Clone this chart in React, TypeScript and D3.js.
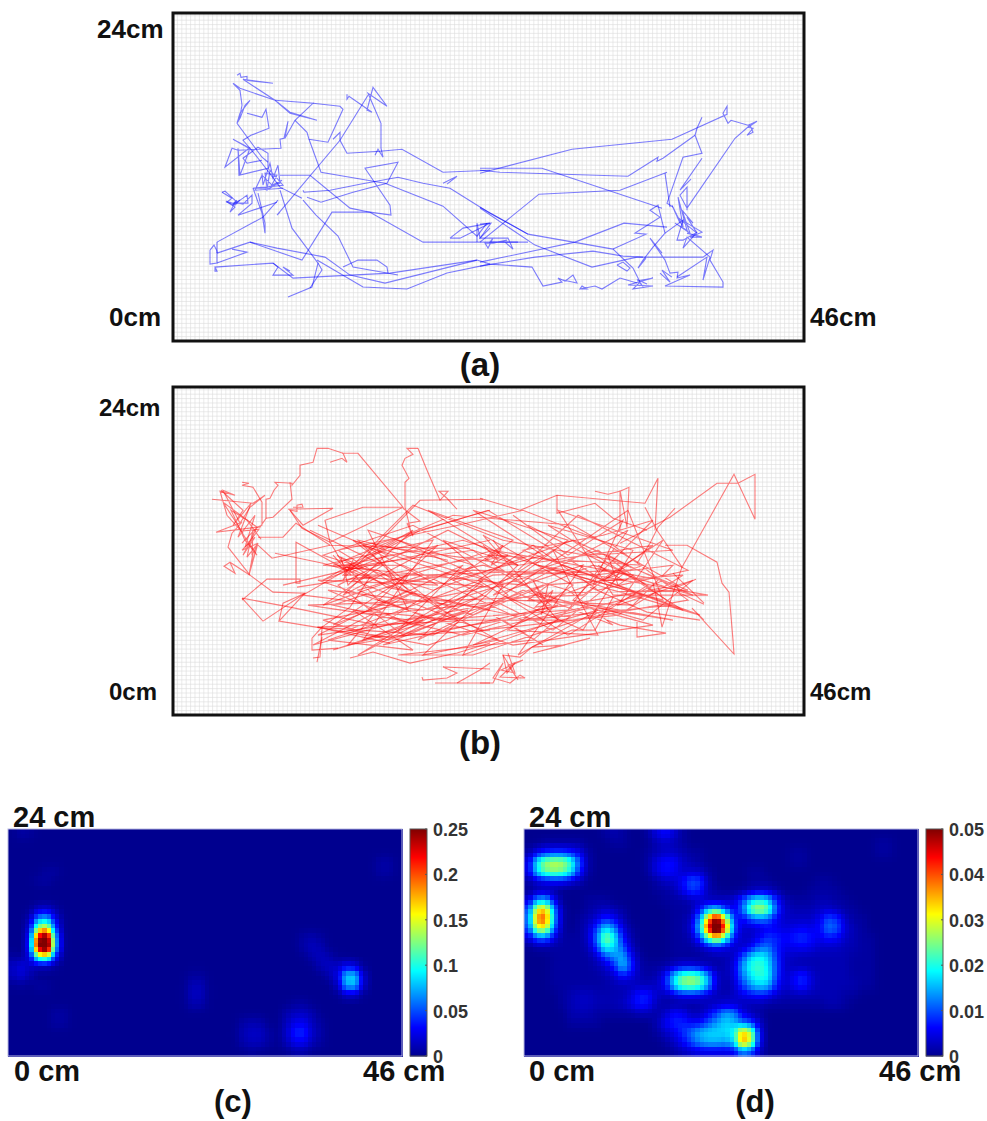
import { useEffect, useRef } from 'react';
import * as d3 from 'd3';

// Tracks are in tracker units, origin at the bottom left of the arena (631 x 328 = 46cm x 24cm)
const TRACK_W = 631;
const TRACK_H = 328;
const GRID_STEP = 4.4;

const blueTracks: number[][][] = [
  [[64,266],[67,268],[68,264],[74,265],[74,261],[100,258],[70,262],[102,241],[117,229],[144,221],[117,228],[102,241],[67,253],[60,258],[67,251],[69,236],[67,226],[64,218],[67,228],[77,241],[72,236],[67,223],[64,218],[89,184],[95,179]],
  [[74,228],[89,224],[93,232],[96,213],[78,206],[70,201],[77,193],[89,178],[107,154],[129,143]],
  [[102,241],[140,238],[122,221],[112,203],[115,220],[111,203],[107,202],[108,193],[65,191],[59,193],[52,174],[76,193],[60,202],[77,193],[67,166],[65,193],[66,166],[95,173],[95,188],[85,194],[70,183],[74,178],[89,181]],
  [[122,221],[134,209],[136,202],[155,199],[170,232],[167,235],[140,238]],
  [[136,202],[148,169],[212,158],[270,135],[304,105],[314,118]],
  [[174,247],[174,242],[176,245],[199,229],[194,231],[200,254],[214,235],[195,248],[208,218],[208,193],[210,184],[205,192],[202,186]],
  [[195,246],[167,201],[104,126],[107,129]],
  [[160,202],[167,209],[167,201],[174,188],[207,190],[229,192],[270,169],[317,171]],
  [[107,166],[137,166],[177,133],[197,129],[250,99],[304,99],[345,99]],
  [[130,151],[131,149],[157,151],[187,157],[225,164],[250,158],[277,153],[317,128],[355,107]],
  [[134,144],[148,139],[180,149],[214,158],[225,179],[192,173],[217,136],[218,126],[197,129],[159,129],[129,81],[77,99],[44,88]],
  [[44,99],[90,124],[105,141]],
  [[37,91],[41,96],[44,90],[44,78],[37,77],[37,91]],
  [[44,88],[44,99]],
  [[44,78],[74,89],[59,92]],
  [[42,74],[42,70],[44,70],[42,74],[100,78],[120,63],[217,68],[304,81],[317,77],[359,74],[370,55],[389,59],[385,63],[392,60],[400,66],[404,58],[390,61]],
  [[100,78],[105,74],[100,66],[120,66],[110,74],[117,70]],
  [[107,151],[119,113],[145,78],[139,54],[115,44]],
  [[145,78],[149,71],[137,53]],
  [[130,141],[143,126],[165,105],[180,74],[214,68],[225,66]],
  [[170,74],[185,81],[204,81],[214,74],[215,68]],
  [[77,99],[104,93],[152,84],[177,66],[212,58],[304,81]],
  [[144,81],[190,54],[234,52],[274,68],[317,77]],
  [[89,168],[90,156],[97,178],[100,163],[105,176],[107,158],[94,154],[92,168],[104,166],[97,153],[80,153],[110,156],[97,171],[94,151],[109,161],[99,156],[89,166],[82,151],[110,153]],
  [[80,153],[89,128],[92,108],[92,118],[85,148]],
  [[49,149],[52,150],[64,139],[70,143],[74,146],[75,138],[60,138],[53,140],[62,134],[57,129],[62,139],[70,137],[79,146],[79,138],[65,126],[104,139]],
  [[49,149],[59,143],[54,139],[62,136],[67,141],[59,136],[64,141]],
  [[277,103],[290,113],[317,118],[287,103],[277,103]],
  [[270,158],[284,165],[274,157]],
  [[304,99],[304,118],[307,103],[317,113]],
  [[307,168],[399,192],[499,202],[554,227],[554,235],[550,228],[555,218],[558,221],[575,216],[584,220],[575,214],[580,213],[574,206],[580,209],[577,216],[562,203],[514,133],[507,146],[514,154],[514,131]],
  [[529,224],[524,213],[522,206],[529,188],[510,184],[494,138],[500,134]],
  [[522,206],[490,183],[484,180],[485,184],[455,165],[327,169],[307,171]],
  [[307,173],[369,173],[489,133]],
  [[529,183],[507,151],[518,162]],
  [[494,169],[447,151],[366,147],[307,99]],
  [[492,168],[497,134]],
  [[307,134],[355,107],[440,92],[460,73],[467,59]],
  [[307,133],[362,96],[419,74],[464,84],[530,84],[540,91],[537,81],[550,59],[550,54],[492,55],[517,66],[504,63],[505,69],[497,68],[492,81],[477,103],[489,88]],
  [[440,92],[473,107],[462,108],[487,124],[477,131],[485,136],[492,108],[480,94],[470,81],[465,73],[473,83]],
  [[492,108],[510,121],[504,101],[510,101],[524,109],[510,93],[514,104],[537,84],[530,61],[534,84],[504,64]],
  [[499,136],[507,118],[500,134],[510,114],[505,144],[514,111],[502,118],[517,108],[509,131],[520,118],[514,124],[524,108],[504,124],[529,109],[517,104],[529,104],[514,108]],
  [[464,60],[480,63],[455,56],[480,55],[460,52],[467,59],[470,54],[465,61],[474,57]],
  [[407,52],[414,52],[409,55],[407,52],[422,55],[429,52],[447,63],[464,58]],
  [[307,79],[402,99],[451,118],[494,114]],
  [[307,75],[362,84],[420,90],[450,85],[470,84]],
  [[307,117],[318,118],[307,103],[335,103],[340,92],[332,99],[355,99],[317,99],[320,103],[315,93],[312,98],[320,98],[334,101]],
  [[444,76],[454,70],[457,73],[450,79],[444,76]],
  [[487,68],[497,59],[489,71],[499,64]],
];

const redTracks: number[][][] = [
  [[157,253],[169,257],[174,253],[170,262],[185,262],[230,208],[190,208],[152,195],[157,173],[230,208]],
  [[170,262],[155,267],[144,267],[140,253],[127,250],[127,240],[119,230],[119,232],[102,233],[105,230],[101,225],[97,217],[93,216],[93,197],[87,188],[84,188],[89,190],[89,213],[80,228],[69,230],[76,232],[69,233]],
  [[245,267],[234,267],[240,261],[232,257],[229,250],[236,237],[232,233],[232,208],[237,188],[234,192],[240,179],[235,192],[247,194],[230,207]],
  [[245,267],[254,245],[267,215],[275,224],[266,224],[274,217],[284,206]],
  [[39,216],[80,212],[92,220],[77,208],[67,192],[50,225],[62,220],[47,224],[54,200],[70,182],[50,213],[84,188],[43,183],[69,193],[59,182],[55,168],[77,140],[57,153],[51,149],[62,142],[57,153]],
  [[48,225],[70,205],[60,190],[78,212],[65,178],[82,200],[72,168],[86,186],[68,184],[84,160],[72,175],[58,205],[74,195],[88,176]],
  [[69,172],[84,188],[70,160],[82,178],[69,165],[85,172],[74,158],[80,185],[79,160],[84,170],[77,145],[80,162],[76,140],[85,172]],
  [[85,178],[110,178],[123,192],[157,170],[257,167],[297,167]],
  [[85,170],[99,157],[157,170]],
  [[117,233],[119,216],[100,198],[93,197]],
  [[115,206],[160,207],[130,190],[117,205],[124,204],[124,210],[129,211],[130,208],[120,208]],
  [[117,205],[129,187],[157,173],[174,145]],
  [[69,115],[94,136],[127,136],[127,132],[123,132],[123,173],[174,145]],
  [[69,117],[90,94],[132,122],[100,123],[77,140]],
  [[69,117],[117,108],[204,90]],
  [[106,94],[110,112],[132,122],[106,94],[149,87],[217,72]],
  [[102,162],[150,152],[174,145]],
  [[140,57],[147,58],[149,88],[139,77],[139,65],[165,67]],
  [[144,53],[149,78]],
  [[177,57],[200,63],[237,52],[284,62],[317,72]],
  [[262,32],[317,32]],
  [[249,38],[250,35],[274,37],[284,42],[270,48],[317,46]],
  [[284,32],[307,45],[317,52]],
  [[307,217],[347,205],[384,220],[472,212],[485,237],[482,185]],
  [[384,220],[384,202],[422,212],[440,197],[474,185]],
  [[422,224],[435,221],[447,224],[456,228],[454,188],[447,225],[447,185]],
  [[472,208],[484,185],[509,148],[561,241],[582,196],[582,241],[565,232],[544,232],[497,198],[447,172]],
  [[502,207],[485,188],[477,172],[464,152]],
  [[492,170],[514,170],[544,153],[549,132],[556,123],[560,75],[561,61],[519,107],[531,95]],
  [[531,112],[500,142]],
  [[523,136],[504,128],[507,122],[531,111]],
  [[464,93],[464,78],[493,82],[447,90],[434,95]],
  [[527,95],[474,103],[417,128]],
  [[509,148],[500,122],[489,88],[484,115],[480,132]],
  [[417,77],[360,62],[392,70],[359,68],[399,85],[422,85],[440,118]],
  [[359,68],[347,58],[330,60],[334,42],[342,52],[327,38],[352,37],[347,40],[337,32],[320,37],[330,52],[320,32],[307,32]],
  [[184,150],[247,215],[310,216]],
  [[174,145],[317,175]],
  [[174,145],[247,185],[317,205]],
  [[164,160],[214,128],[317,105]],
  [[124,128],[190,138],[317,128]],
  [[144,88],[204,78],[317,85]],
  [[149,88],[177,108],[197,138],[174,148]],
  [[110,130],[174,145],[300,100],[420,150],[520,120],[400,175],[260,125],[150,160],[240,190],[370,120],[480,90],[340,70],[205,115],[172,150],[290,175],[440,125],[527,100],[390,150],[250,105],[130,120],[225,175],[367,112],[470,150],[320,160],[180,135],[310,85],[445,100],[510,140],[370,130],[215,75],[150,95],[300,125],[425,165],[500,110],[350,95],[230,150],[160,150],[280,200],[400,190],[505,130],[365,105],[255,70],[175,85],[320,140],[455,145],[380,85],[270,140],[170,140],[240,210],[330,175],[440,155],[515,125],[372,122],[235,95],[135,110],[280,115],[410,120],[480,170],[345,150],[200,170],[315,205],[430,135],[360,75],[225,60],[300,60],[420,100],[490,135],[320,165],[185,125],[260,95],[395,105],[455,185],[350,130],[172,148],[300,165],[375,115],[500,95],[420,110],[290,80],[160,110],[250,140],[385,145],[470,120],[365,95],[240,120],[165,165],[285,190],[350,205],[440,170],[515,115],[400,95],[300,95],[195,90],[145,88],[260,80],[350,125],[440,90],[395,125],[310,150],[220,130],[300,145],[420,140],[500,150],[460,110],[340,115],[200,100],[175,70],[330,95],[370,70],[320,100]],
  [[137,185],[210,150],[150,110],[235,140],[160,90],[245,125],[140,70],[250,100],[185,60],[280,110],[155,125],[240,90],[310,130],[190,170],[265,130],[145,135],[235,105],[195,185],[300,150],[215,95],[155,75],[240,65],[180,105],[285,95],[205,145],[150,150],[260,175],[190,75],[310,120],[230,80],[165,130],[275,185],[345,150],[250,60],[325,75],[270,105],[180,175],[330,130],[290,60],[385,95],[310,180],[400,130],[335,85],[425,80],[380,165],[300,115]],
  [[340,200],[395,160],[450,195],[420,130],[490,175],[445,110],[520,135],[470,95],[400,115],[480,195],[430,180],[350,165],[510,105],[375,190],[460,165],[410,85],[330,120],[455,205],[490,115],[365,150],[535,120],[440,120],[385,205],[500,165],[415,160],[355,190],[475,130],[395,80],[305,135],[360,170],[425,125],[515,145],[405,200],[345,145]],
  [[145,190],[215,160],[150,135],[240,185],[170,120],[265,170],[195,105],[290,150],[225,85],[310,135],[245,75],[335,120],[270,175],[345,150],[255,205],[340,175],[280,135],[370,160],[300,205],[395,175],[320,120],[410,150],[345,60],[425,105],[300,70],[385,110],[210,70],[295,105],[160,65],[250,95],[145,80],[235,125],[185,175],[275,155]],
  [[160,160],[178,140],[165,150],[182,150],[170,135],[180,155],[172,140],[190,148],[168,158],[175,130],[185,140]],
  [[310,170],[325,155],[315,160],[330,170],[318,150],[335,160],[312,155],[328,165],[320,175]],
  [[358,125],[378,110],[362,108],[380,125],[368,100],[375,130],[355,115],[385,115],[365,125],[375,105],[360,135],[372,115]],
  [[425,150],[450,135],[430,135],[455,150],[435,160],[445,130],[460,140],[428,145]],
  [[330,60],[345,35],[335,50],[350,55],[328,45],[342,42],[335,62]],
];

// Occupancy heat maps, 46 x 24 one-cm bins, values in thousandths
const HEAT_COLS = 46;
const HEAT_ROWS = 24;

// panel (c) is nearly empty: [col, row, value]
const heatCellsC: number[][] = [
  [1,0,7],[2,0,4],[4,4,5],[5,4,6],[3,5,5],[4,5,6],[43,3,7],[44,3,7],[43,4,7],[44,4,6],
  [3,8,14],[4,8,18],[5,8,6],
  [2,9,5],[3,9,70],[4,9,85],[5,9,24],[6,9,1],
  [2,10,10],[3,10,140],[4,10,170],[5,10,40],
  [2,11,14],[3,11,250],[4,11,310],[5,11,65],[6,11,2],
  [2,12,16],[3,12,270],[4,12,340],[5,12,70],[6,12,2],
  [0,13,4],[1,13,4],[2,13,12],[3,13,120],[4,13,140],[5,13,30],
  [0,14,14],[1,14,26],[2,14,14],[3,14,4],[4,14,4],[5,14,2],
  [0,15,12],[1,15,22],[2,15,10],[0,16,1],[1,16,3],[3,16,6],[4,16,5],
  [34,11,7],[35,11,10],[36,11,5],[34,12,8],[35,12,14],[36,12,10],[35,13,9],[36,13,14],[37,13,10],
  [36,14,12],[37,14,16],[38,14,14],[39,14,26],[40,14,18],
  [37,15,10],[38,15,20],[39,15,90],[40,15,95],[41,15,14],
  [38,16,10],[39,16,85],[40,16,90],[41,16,12],[39,17,12],[40,17,12],
  [21,15,4],[22,15,4],[21,16,12],[22,16,12],[21,17,15],[22,17,14],[21,18,10],[22,18,9],
  [5,19,6],[6,19,6],[5,20,6],[6,20,5],
  [33,18,5],[34,18,6],[32,19,9],[33,19,14],[34,19,15],[35,19,10],
  [27,20,8],[28,20,10],[29,20,9],[32,20,12],[33,20,26],[34,20,28],[35,20,12],[36,20,5],
  [27,21,12],[28,21,16],[29,21,15],[30,21,6],[32,21,16],[33,21,42],[34,21,44],[35,21,16],[36,21,7],
  [27,22,10],[28,22,14],[29,22,13],[30,22,5],[32,22,12],[33,22,30],[34,22,30],[35,22,12],[36,22,5],
  [33,23,6],[34,23,6],[28,23,3],
];

const heatRowsD: number[][] = [
  [0,0,0,0,0,0,0,0,0,1,2,1,0,0,1,5,7,4,1,0,0,0,0,0,0,0,0,0,0,0,0,0,0,0,0,0,0,0,0,0,0,0,0,0,0,0],
  [0,0,1,1,1,1,1,0,0,0,1,1,0,0,0,2,3,2,1,0,0,0,0,0,0,0,0,0,0,0,0,0,0,0,0,0,0,0,0,0,0,1,1,0,0,0],
  [1,5,7,8,8,7,5,1,0,0,0,0,0,0,1,2,3,3,2,1,1,0,0,0,0,0,0,0,0,0,0,1,1,0,0,0,0,0,0,0,0,1,1,0,0,0],
  [4,20,28,30,29,23,10,1,0,0,0,0,0,0,1,5,7,7,3,2,1,0,0,0,0,0,0,0,0,0,0,1,1,0,0,0,0,0,0,0,0,0,0,0,0,0],
  [4,19,25,27,25,20,7,1,0,0,0,0,0,0,1,5,7,6,3,3,3,1,0,0,0,0,1,1,0,0,0,0,0,0,0,0,0,0,0,0,0,0,0,0,0,0],
  [1,3,4,5,5,3,2,0,0,0,0,0,0,0,0,1,3,3,6,11,10,2,0,0,0,0,1,1,1,0,0,0,0,0,1,1,0,0,0,0,0,0,0,0,0,0],
  [0,1,1,1,0,0,0,0,0,0,0,0,0,0,0,1,1,2,5,10,8,2,1,0,0,0,1,2,2,1,0,0,0,1,1,1,1,0,0,0,0,0,0,0,0,0],
  [3,14,16,5,0,0,0,1,1,1,0,0,0,0,0,0,1,1,1,2,3,2,2,3,4,9,17,20,17,7,2,1,1,1,2,2,1,1,0,0,0,0,0,0,0,0],
  [8,33,37,12,1,0,0,1,2,3,2,1,0,0,0,0,0,1,1,1,6,14,16,8,4,11,27,31,27,9,3,2,2,2,3,3,2,1,1,0,0,0,0,0,0,0],
  [9,40,44,13,1,0,1,2,4,8,6,2,0,0,0,0,0,1,1,3,12,36,55,32,7,5,9,11,10,5,3,3,3,3,5,11,9,3,1,1,0,0,0,0,0,0],
  [8,31,34,10,1,0,1,3,9,18,13,4,1,0,0,0,0,1,1,4,16,46,70,42,9,4,3,4,6,5,4,5,6,5,6,13,11,4,2,1,0,0,0,0,0,0],
  [3,10,11,4,1,1,1,3,12,28,21,6,2,0,0,0,0,1,1,2,8,22,32,20,6,3,3,6,9,8,6,8,9,7,5,7,6,3,2,1,1,0,0,0,0,0],
  [0,1,1,1,1,1,1,2,9,21,17,10,3,0,0,0,0,1,1,1,2,4,5,4,3,3,5,11,12,7,5,5,6,5,3,3,3,2,2,1,1,0,0,0,0,0],
  [0,0,0,1,1,1,1,1,3,9,13,16,6,1,0,0,0,1,1,1,1,1,2,2,3,9,18,20,17,8,3,3,2,2,2,2,2,2,1,1,1,0,0,0,0,0],
  [0,0,0,1,1,1,1,1,2,3,7,18,9,1,1,1,1,2,3,3,2,2,1,2,4,14,21,22,18,9,3,2,2,2,2,2,2,2,1,1,1,0,0,0,0,0],
  [0,0,0,1,1,1,1,1,1,2,3,7,5,2,1,2,6,18,25,27,24,15,3,2,4,12,18,21,20,8,3,6,9,4,2,2,2,2,1,1,1,0,0,0,0,0],
  [0,0,0,1,1,1,1,1,1,1,2,2,2,2,2,3,6,19,26,28,25,16,3,1,3,9,15,18,17,7,3,6,9,4,2,2,2,2,2,1,1,0,0,0,0,0],
  [0,0,0,0,1,2,3,3,2,2,2,2,4,8,8,3,2,3,5,5,4,3,2,2,3,5,6,7,6,3,2,2,2,2,2,2,2,1,1,0,0,0,0,0,0,0],
  [0,0,0,0,1,2,3,3,2,2,2,3,5,8,7,2,1,1,1,1,2,2,3,3,3,2,2,2,1,1,1,1,1,1,1,2,2,1,0,0,0,0,0,0,0,0],
  [0,0,0,0,0,2,2,2,1,1,1,1,1,2,2,1,3,7,6,2,2,5,9,15,14,5,2,1,0,0,0,0,0,0,0,0,0,0,0,0,0,0,0,0,0,0],
  [0,0,0,0,0,1,1,1,1,0,0,0,0,0,0,2,6,8,8,6,6,10,14,17,15,10,9,3,0,0,0,0,0,0,0,0,0,0,0,0,0,0,0,0,0,0],
  [0,0,0,0,0,0,0,0,0,0,0,0,0,0,0,1,3,5,8,12,16,17,17,17,18,38,30,4,0,0,0,0,0,0,0,0,0,0,0,0,0,0,0,0,0,0],
  [0,0,0,0,0,0,0,0,0,0,0,0,0,0,0,0,1,3,6,10,14,16,16,15,16,42,32,4,0,0,0,0,0,0,0,0,0,0,0,0,0,0,0,0,0,0],
  [0,0,0,0,0,0,0,0,0,0,0,0,0,0,0,0,0,1,2,3,4,4,4,4,4,10,8,2,0,0,0,0,0,0,0,0,0,0,0,0,0,0,0,0,0,0],
];

const colorbarTicksC = [0, 0.05, 0.1, 0.15, 0.2, 0.25];
const colorbarTicksD = [0, 0.01, 0.02, 0.03, 0.04, 0.05];

const jetStops = [0, 0.125, 0.375, 0.625, 0.875, 1];
const jetColors = ['#00008f', '#0000ff', '#00ffff', '#ffff00', '#ff0000', '#800000'];

const FONT = '"Liberation Sans", Arial, sans-serif';

function cellsToRows(cells: number[][]) {
  const rows = d3.range(HEAT_ROWS).map(() => d3.range(HEAT_COLS).map(() => 0));
  cells.forEach(([c, r, v]) => { rows[r][c] = v; });
  return rows;
}

// small binomial-style blur over the bins, the figure's maps are smoothed too
function smoothRows(rows: number[][]) {
  const at = (r: number, c: number) =>
    rows[Math.max(0, Math.min(HEAT_ROWS - 1, r))][Math.max(0, Math.min(HEAT_COLS - 1, c))];
  const k = [0.15, 0.7, 0.15];
  return rows.map((row, r) => row.map((_, c) =>
    d3.sum([-1, 0, 1], dy => d3.sum([-1, 0, 1], dx => k[dy + 1] * k[dx + 1] * at(r + dy, c + dx)))));
}

// Catmull-Rom lookup, the same smoothing imshow would do on the bins
function sampleHeat(rows: number[][], x: number, y: number) {
  const cr = (a: number, b: number, c: number, d: number, t: number) =>
    b + 0.5 * t * (c - a + t * (2 * a - 5 * b + 4 * c - d + t * (3 * (b - c) + d - a)));
  const at = (r: number, c: number) =>
    rows[Math.max(0, Math.min(HEAT_ROWS - 1, r))][Math.max(0, Math.min(HEAT_COLS - 1, c))];
  const x0 = Math.floor(x), y0 = Math.floor(y);
  const tx = x - x0, ty = y - y0;
  const col = [-1, 0, 1, 2].map(dy =>
    cr(at(y0 + dy, x0 - 1), at(y0 + dy, x0), at(y0 + dy, x0 + 1), at(y0 + dy, x0 + 2), tx));
  return Math.max(0, cr(col[0], col[1], col[2], col[3], ty));
}

export default function App() {
  const svgRef = useRef<SVGSVGElement>(null);

  useEffect(() => {
    if (!svgRef.current) return;
    const svg = d3.select(svgRef.current);
    svg.selectAll('*').remove();

    const label = (txt: string, x: number, y: number, size: number, anchor = 'start') =>
      svg.append('text')
        .attr('x', x).attr('y', y)
        .attr('font-family', FONT).attr('font-weight', 700)
        .attr('font-size', size).attr('text-anchor', anchor)
        .attr('fill', '#111')
        .text(txt);

    // ── Track panels ─────────────────────────────────────────────
    const drawTrack = (top: number, tracks: number[][][], color: string) => {
      const left = 173;
      const x = d3.scaleLinear().domain([0, TRACK_W]).range([0, 631]);
      // 0.4 keeps exact diagonals off the 45 degree case, chrome draws those too dark
      const y = d3.scaleLinear().domain([0, TRACK_H]).range([328, 0.4]);
      const g = svg.append('g').attr('transform', `translate(${left},${top})`);

      g.append('rect').attr('width', 631).attr('height', 328).attr('fill', '#fff');
      g.append('g').selectAll('line')
        .data(d3.range(0, TRACK_W, GRID_STEP))
        .join('line')
        .attr('x1', d => x(d)).attr('x2', d => x(d))
        .attr('y1', 0).attr('y2', 328)
        .attr('stroke', '#dcdcdc').attr('stroke-width', 0.6);
      g.append('g').selectAll('line')
        .data(d3.range(0, TRACK_H, GRID_STEP))
        .join('line')
        .attr('y1', d => y(d)).attr('y2', d => y(d))
        .attr('x1', 0).attr('x2', 631)
        .attr('stroke', '#dcdcdc').attr('stroke-width', 0.6);

      const line = d3.line<number[]>().x(d => x(d[0])).y(d => y(d[1]));
      g.append('g').selectAll('path')
        .data(tracks)
        .join('path')
        .attr('d', d => line(d))
        .attr('fill', 'none')
        .attr('stroke', color)
        .attr('stroke-opacity', 0.5)
        .attr('stroke-width', 1.1);

      g.append('rect')
        .attr('width', 631).attr('height', 328)
        .attr('fill', 'none').attr('stroke', '#111').attr('stroke-width', 3);
    };

    drawTrack(13, blueTracks, '#0000ff');
    drawTrack(387, redTracks, '#ff0000');

    label('24cm', 97, 38, 26);
    label('0cm', 109, 326, 26);
    label('46cm', 810, 326, 26);
    label('(a)', 480, 376, 33, 'middle');
    label('24cm', 99, 416, 24);
    label('0cm', 109, 700, 24);
    label('46cm', 810, 700, 24);
    label('(b)', 480, 754, 33, 'middle');

    // ── Heat map panels ──────────────────────────────────────────
    const drawHeat = (left: number, rawRows: number[][], ticks: number[]) => {
      const W = 394, H = 227, SUB = 2;
      const rows = smoothRows(rawRows);
      const vMax = ticks[ticks.length - 1];
      const jet = d3.scaleLinear<string>()
        .domain(jetStops.map(s => s * vMax))
        .range(jetColors)
        .clamp(true);
      const xCell = d3.scaleLinear().domain([0, HEAT_COLS * SUB]).range([0, W]);
      const yCell = d3.scaleLinear().domain([0, HEAT_ROWS * SUB]).range([0, H]);
      const g = svg.append('g').attr('transform', `translate(${left},829)`);

      const cells: { c: number; r: number; v: number }[] = [];
      for (let r = 0; r < HEAT_ROWS * SUB; r++) {
        for (let c = 0; c < HEAT_COLS * SUB; c++) {
          const v = sampleHeat(rows, (c + 0.5) / SUB - 0.5, (r + 0.5) / SUB - 0.5) / 1000;
          cells.push({ c, r, v });
        }
      }
      g.append('g').attr('shape-rendering', 'crispEdges').selectAll('rect')
        .data(cells)
        .join('rect')
        .attr('x', d => xCell(d.c)).attr('y', d => yCell(d.r))
        .attr('width', xCell(1) + 0.5).attr('height', yCell(1) + 0.5)
        .attr('fill', d => jet(d.v));

      g.append('rect').attr('width', W).attr('height', H)
        .attr('fill', 'none').attr('stroke', '#b8b8e0').attr('stroke-width', 1);

      // colorbar
      const barX = W + 8, barW = 17;
      const yBar = d3.scaleLinear().domain([0, vMax]).range([H, 0]);
      const bar = g.append('g').attr('transform', `translate(${barX},0)`);
      bar.selectAll('rect')
        .data(d3.range(0, H))
        .join('rect')
        .attr('y', d => d).attr('width', barW).attr('height', 1.5)
        .attr('fill', d => jet(yBar.invert(d + 0.5)));
      bar.append('rect').attr('width', barW).attr('height', H)
        .attr('fill', 'none').attr('stroke', '#555').attr('stroke-width', 1);
      bar.selectAll('line')
        .data(ticks)
        .join('line')
        .attr('x1', barW - 2).attr('x2', barW)
        .attr('y1', d => yBar(d)).attr('y2', d => yBar(d))
        .attr('stroke', '#555');
      bar.selectAll('text')
        .data(ticks)
        .join('text')
        .attr('x', barW + 6)
        .attr('y', d => yBar(d) + 7)
        .attr('font-family', FONT).attr('font-weight', 700)
        .attr('font-size', 18).attr('fill', '#333')
        .text(d => String(d));
    };

    drawHeat(8, cellsToRows(heatCellsC), colorbarTicksC);
    drawHeat(524, heatRowsD, colorbarTicksD);

    label('24 cm', 13, 827, 29);
    label('0 cm', 14, 1081, 29);
    label('46 cm', 363, 1081, 29);
    label('(c)', 233, 1112, 31, 'middle');
    label('24 cm', 529, 827, 29);
    label('0 cm', 529, 1081, 29);
    label('46 cm', 879, 1081, 29);
    label('(d)', 755, 1112, 31, 'middle');
  }, []);

  return (
    <svg
      ref={svgRef}
      width={987}
      height={1121}
      style={{ position: 'absolute', left: 0, top: 0, background: '#fff' }}
    />
  );
}
